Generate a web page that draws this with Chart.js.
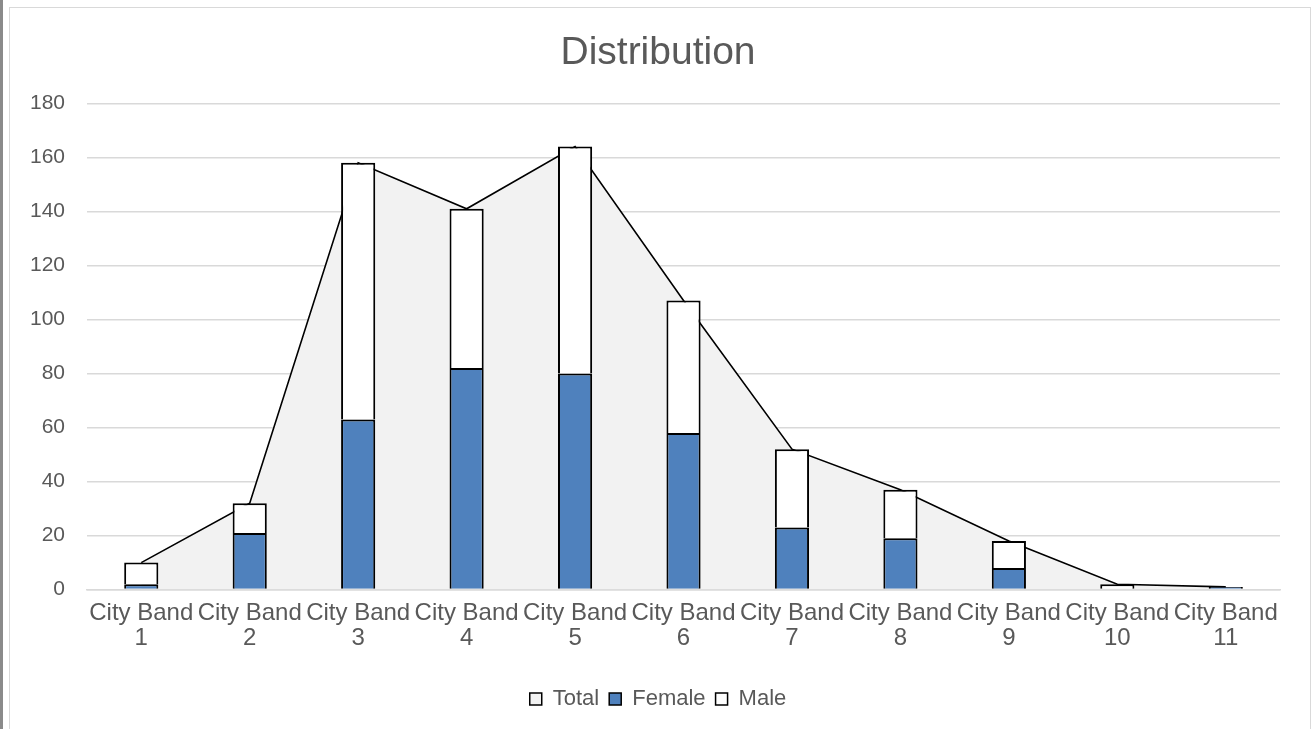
<!DOCTYPE html>
<html>
<head>
<meta charset="utf-8">
<script src="https://cdn.jsdelivr.net/npm/chart.js@4.4.1/dist/chart.umd.min.js"></script>
<style>
  html, body { margin: 0; padding: 0; background: #ffffff; }
  #wrap { position: relative; width: 1316px; height: 729px; overflow: hidden; }
  #frame { position: absolute; left: 9px; top: 7px; width: 1302px; height: 740px; border: 1px solid #d9d9d9; box-sizing: border-box; }
  #edge { position: absolute; left: 0; top: 0; width: 3px; height: 729px; background: #8a8a8a; }
  canvas { position: absolute; left: 0; top: 0; }
</style>
</head>
<body>
<div id="wrap">
  <div id="edge"></div>
  <div id="frame"></div>
  <canvas id="c" width="1316" height="729"></canvas>
</div>
<script>
const categories = [["City Band","1"],["City Band","2"],["City Band","3"],["City Band","4"],["City Band","5"],["City Band","6"],["City Band","7"],["City Band","8"],["City Band","9"],["City Band","10"],["City Band","11"]];
const totalValues = [10, 32, 158, 141, 164, 107, 52, 37, 18, 2, 1];
const femaleValues = [2, 21, 63, 82, 80, 58, 23, 19, 8, 0, 1];
const maleValues = [8, 11, 95, 59, 84, 49, 29, 18, 10, 2, 0];
const yTicks = [0, 20, 40, 60, 80, 100, 120, 140, 160, 180];

const txt = '#595959';
const fontFam = '"Liberation Sans", Arial, sans-serif';

// Centre the title and legend on the whole canvas rather than on the padded box.
const centerBlocks = {
  id: 'centerBlocks',
  afterLayout(chart) {
    [chart.titleBlock, chart.legend].forEach(b => {
      if (b) { b.left = 0; b.right = chart.width; b.width = chart.width; }
    });
  }
};

new Chart(document.getElementById('c'), {
  type: 'bar',
  plugins: [centerBlocks],
  data: {
    labels: categories,
    datasets: [
      {
        type: 'line',
        label: 'Total',
        data: totalValues,
        stack: 'total',
        fill: 'origin',
        backgroundColor: '#f2f2f2',
        borderColor: '#000000',
        borderWidth: 1.6,
        pointRadius: 0,
        tension: 0,
        order: 2
      },
      {
        label: 'Female',
        data: femaleValues,
        stack: 'bars',
        backgroundColor: '#4f81bd',
        borderColor: '#000000',
        borderWidth: 2,
        categoryPercentage: 1,
        barPercentage: 0.315,
        order: 1
      },
      {
        label: 'Male',
        data: maleValues,
        stack: 'bars',
        backgroundColor: '#ffffff',
        borderColor: '#000000',
        borderWidth: 2,
        categoryPercentage: 1,
        barPercentage: 0.315,
        order: 1
      }
    ]
  },
  options: {
    responsive: false,
    animation: false,
    devicePixelRatio: 1,
    layout: { padding: { left: 8, right: 36, top: 1, bottom: 9 } },
    plugins: {
      title: {
        display: true,
        text: 'Distribution',
        color: txt,
        font: { family: fontFam, size: 39, weight: 'normal', lineHeight: 1.2 },
        padding: { top: 29, bottom: 26.6 }
      },
      legend: {
        position: 'bottom',
        labels: {
          color: txt,
          font: { family: fontFam, size: 22 },
          boxWidth: 12,
          boxHeight: 12,
          padding: 10,
          sort: (a, b) => a.datasetIndex - b.datasetIndex,
          generateLabels: (chart) => {
            const fills = ['#f2f2f2', '#4f81bd', '#ffffff'];
            return chart.data.datasets.map((ds, i) => ({
              text: ds.label,
              fillStyle: fills[i],
              strokeStyle: '#000000',
              lineWidth: 1.5,
              fontColor: txt,
              hidden: false,
              datasetIndex: i
            }));
          }
        }
      },
      tooltip: { enabled: false }
    },
    scales: {
      x: {
        stacked: true,
        grid: { display: false, drawTicks: false },
        border: { display: true, color: '#d9d9d9', width: 1.5 },
        afterFit: (axis) => { axis.height += 16; },
        ticks: {
          color: txt,
          font: { family: fontFam, size: 24, lineHeight: 1.05 },
          maxRotation: 0,
          autoSkip: false,
          padding: 11
        }
      },
      y: {
        stacked: true,
        min: 0,
        max: 180,
        afterBuildTicks: (axis) => { axis.ticks = yTicks.map(v => ({ value: v })); },
        grid: { color: '#d9d9d9', drawTicks: false, lineWidth: 1.5 },
        border: { display: false },
        ticks: {
          color: txt,
          font: { family: fontFam, size: 21 },
          padding: 22
        }
      }
    }
  }
});
</script>
</body>
</html>
